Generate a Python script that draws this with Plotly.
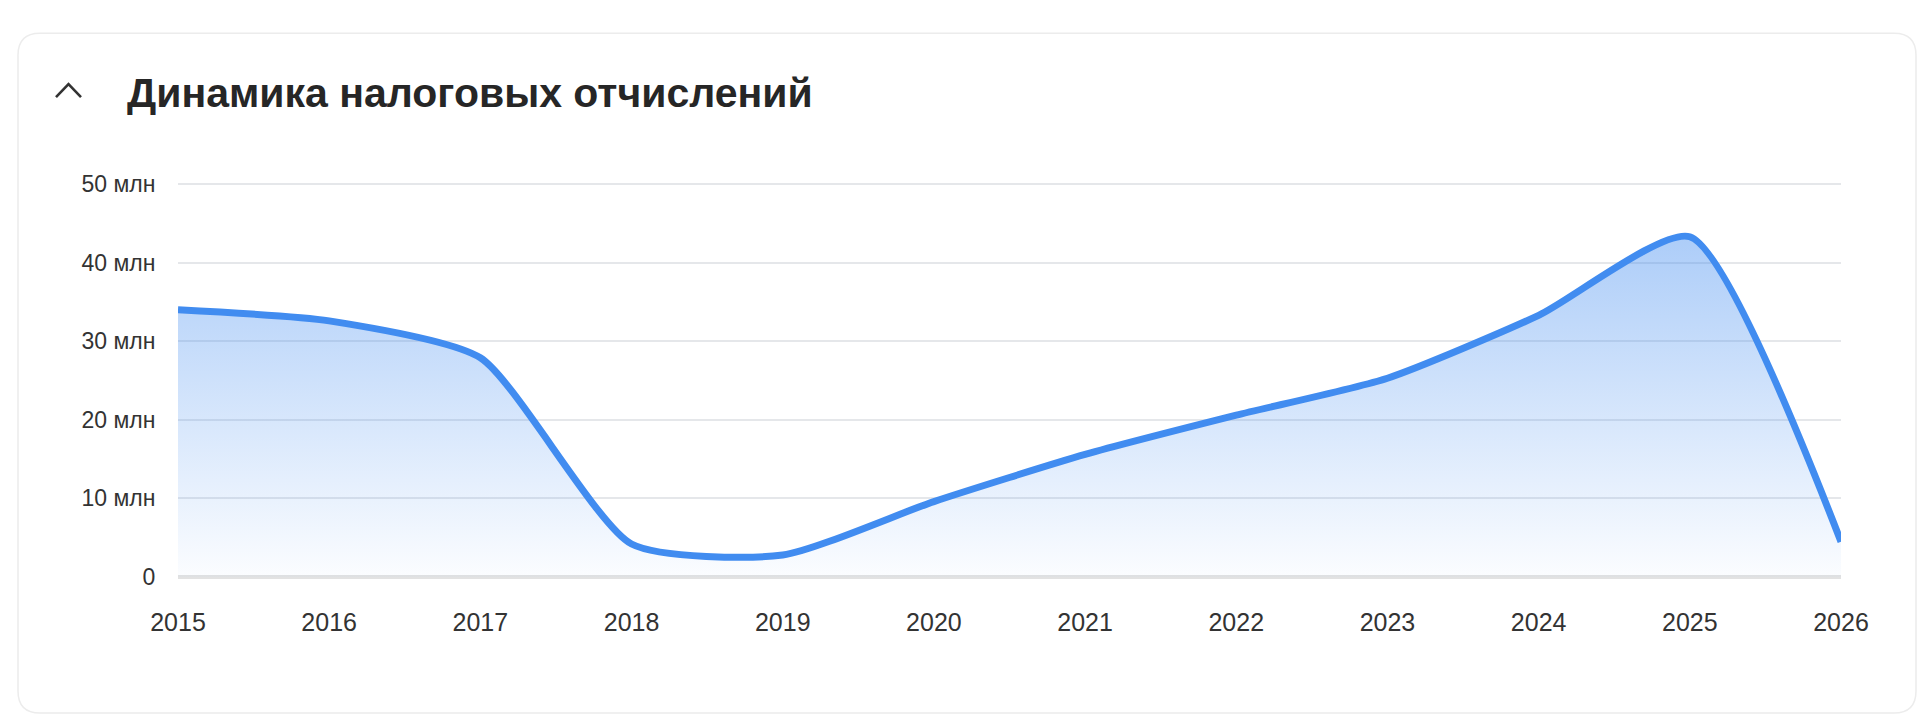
import plotly.graph_objects as go

# ---- data ----
years = [2015, 2016, 2017, 2018, 2019, 2020, 2021, 2022, 2023, 2024, 2025, 2026]
tax_mln = [34.0, 32.6, 27.9, 4.2, 2.8, 9.6, 15.6, 20.6, 25.3, 33.3, 43.3, 4.5]
y_tickvals = [0, 10, 20, 30, 40, 50]
y_ticktext = ["0", "10 млн", "20 млн", "30 млн", "40 млн", "50 млн"]
title_text = "Динамика налоговых отчислений"

# ---- layout geometry (pixels) ----
W, H = 1920, 719
Y_TOP = 50.4           # small headroom so the 50 gridline is drawn
L, R, B = 178, 1841, 577
PX_PER = (577 - 184) / 50.0
T = B - Y_TOP * PX_PER


def px(x):
    return (x - L) / (R - L)


def py(y):
    return (B - y) / (B - T)


FONT = "Liberation Sans, Arial, Helvetica, sans-serif"
LINE = "#418CF0"

fig = go.Figure()
fig.add_trace(go.Scatter(
    x=years, y=tax_mln,
    mode="lines",
    line=dict(color=LINE, width=7, shape="spline", smoothing=0.6),
    fill="tozeroy",
    fillgradient=dict(
        type="vertical",
        start=0, stop=50,
        colorscale=[[0, "rgba(66,140,240,0.02)"], [1, "rgba(66,140,240,0.50)"]],
    ),
    hoverinfo="skip",
    showlegend=False,
))

# card with rounded corners
cx0, cy0, cx1, cy1, r = 18, 33, 1916, 713, 22
path = (
    f"M {px(cx0 + r)},{py(cy0)} "
    f"L {px(cx1 - r)},{py(cy0)} Q {px(cx1)},{py(cy0)} {px(cx1)},{py(cy0 + r)} "
    f"L {px(cx1)},{py(cy1 - r)} Q {px(cx1)},{py(cy1)} {px(cx1 - r)},{py(cy1)} "
    f"L {px(cx0 + r)},{py(cy1)} Q {px(cx0)},{py(cy1)} {px(cx0)},{py(cy1 - r)} "
    f"L {px(cx0)},{py(cy0 + r)} Q {px(cx0)},{py(cy0)} {px(cx0 + r)},{py(cy0)} Z"
)
shapes = [
    dict(type="path", path=path, xref="paper", yref="paper",
         line=dict(color="#ECECEC", width=1.5), fillcolor="white", layer="below"),
    dict(type="path", xref="paper", yref="paper",
         path=f"M {px(56)},{py(97)} L {px(68.5)},{py(84)} L {px(81)},{py(97)}",
         line=dict(color="#333333", width=2.6)),
]

fig.update_layout(
    width=W, height=H,
    margin=dict(l=L, r=W - R, t=T, b=H - B, pad=0),
    paper_bgcolor="white",
    plot_bgcolor="rgba(0,0,0,0)",
    font=dict(family=FONT, color="#333333"),
    shapes=shapes,
    annotations=[dict(
        text=title_text, xref="paper", yref="paper",
        x=px(125), y=py(93), xanchor="left", yanchor="middle",
        showarrow=False,
        font=dict(family=FONT, size=41, color="#262626", weight=700),
    )],
    xaxis=dict(
        range=[years[0], years[-1]],
        tickmode="array", tickvals=years, ticktext=[str(y) for y in years],
        showgrid=False, zeroline=False, showline=False,
        ticks="outside", ticklen=23, tickcolor="rgba(0,0,0,0)",
        tickfont=dict(family=FONT, size=25, color="#333333"),
        fixedrange=True,
    ),
    yaxis=dict(
        range=[0, Y_TOP],
        tickmode="array", tickvals=y_tickvals, ticktext=y_ticktext,
        showgrid=True, gridcolor="#E5E7EA", gridwidth=1.5,
        zeroline=True, zerolinecolor="#E2E2E2", zerolinewidth=3.5,
        showline=False,
        ticks="outside", ticklen=17, tickcolor="rgba(0,0,0,0)",
        tickfont=dict(family=FONT, size=23, color="#333333"),
        fixedrange=True,
    ),
)

fig.write_html(
    "out.html",
    config=dict(displayModeBar=False),
    post_script="document.body.style.margin='0';document.body.style.overflow='hidden';",
)
